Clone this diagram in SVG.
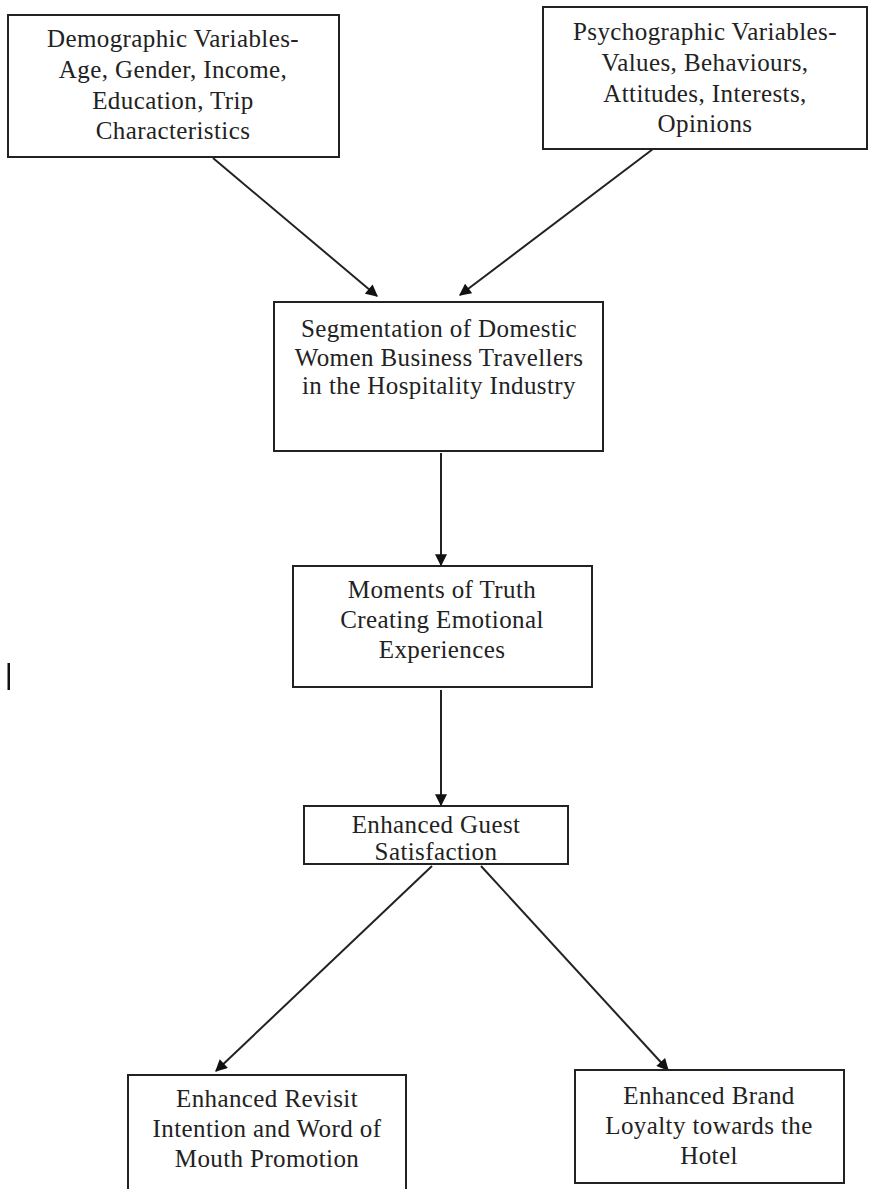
<svg xmlns="http://www.w3.org/2000/svg" width="870" height="1189" viewBox="0 0 870 1189">
<style>
.box{fill:#fff;stroke:#222;stroke-width:2}
.t{font-family:"Liberation Serif","Times New Roman",serif;font-size:25px;letter-spacing:0.4px;fill:#222;text-anchor:middle}
.c{stroke:#222;stroke-width:2;fill:none;marker-end:url(#ah)}
</style>
<defs>
<marker id="ah" viewBox="0 0 10 10" refX="9" refY="5" markerWidth="13" markerHeight="12" markerUnits="userSpaceOnUse" orient="auto">
<path d="M0,0 L10,5 L0,10 z" fill="#111"/>
</marker>
</defs>
<rect width="870" height="1189" fill="#fff"/>
<g id="connectors">
<line class="c" x1="213" y1="158" x2="377" y2="296"/>
<line class="c" x1="653" y1="149" x2="460" y2="295"/>
<line class="c" x1="441" y1="453" x2="441" y2="565"/>
<line class="c" x1="441" y1="690" x2="441" y2="805"/>
<line class="c" x1="432" y1="866" x2="216" y2="1071"/>
<line class="c" x1="481" y1="866" x2="668" y2="1070"/>
</g>
<g id="demographic">
<rect class="box" x="8" y="15" width="331" height="142"/>
<text class="t" x="173" y="47">Demographic Variables-</text>
<text class="t" x="173" y="78">Age, Gender, Income,</text>
<text class="t" x="173" y="109">Education, Trip</text>
<text class="t" x="173" y="139">Characteristics</text>
</g>
<g id="psychographic">
<rect class="box" x="543" y="7" width="324" height="142"/>
<text class="t" x="705" y="40">Psychographic Variables-</text>
<text class="t" x="705" y="71">Values, Behaviours,</text>
<text class="t" x="705" y="102">Attitudes, Interests,</text>
<text class="t" x="705" y="132">Opinions</text>
</g>
<g id="segmentation">
<rect class="box" x="274" y="302" width="329" height="149"/>
<text class="t" x="439" y="337">Segmentation of Domestic</text>
<text class="t" x="439" y="366">Women Business Travellers</text>
<text class="t" x="439" y="394">in the Hospitality Industry</text>
</g>
<g id="moments">
<rect class="box" x="293" y="566" width="299" height="121"/>
<text class="t" x="442" y="598">Moments of Truth</text>
<text class="t" x="442" y="628">Creating Emotional</text>
<text class="t" x="442" y="658">Experiences</text>
</g>
<g id="satisfaction">
<rect class="box" x="304" y="806" width="264" height="58"/>
<text class="t" x="436" y="833">Enhanced Guest</text>
<text class="t" x="436" y="860">Satisfaction</text>
</g>
<g id="revisit">
<rect class="box" x="128" y="1075" width="278" height="125"/>
<text class="t" x="267" y="1107">Enhanced Revisit</text>
<text class="t" x="267" y="1137">Intention and Word of</text>
<text class="t" x="267" y="1167">Mouth Promotion</text>
</g>
<g id="loyalty">
<rect class="box" x="575" y="1070" width="269" height="113"/>
<text class="t" x="709" y="1104">Enhanced Brand</text>
<text class="t" x="709" y="1134">Loyalty towards the</text>
<text class="t" x="709" y="1164">Hotel</text>
</g>
<rect x="7.5" y="663" width="2.5" height="27" fill="#111"/>
</svg>
